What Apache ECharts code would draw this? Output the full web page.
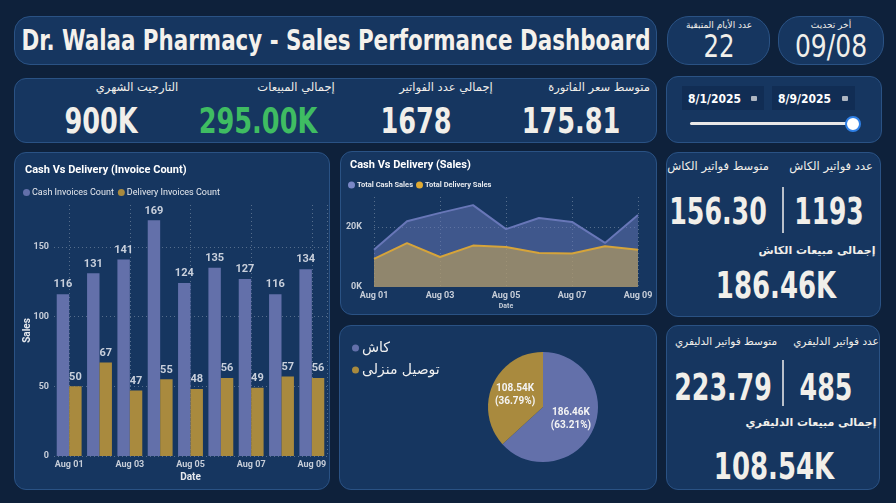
<!DOCTYPE html>
<html>
<head>
<meta charset="utf-8">
<script src="https://cdn.jsdelivr.net/npm/echarts@6.0.0/dist/echarts.min.js"></script>
<style>
  body { margin: 0; background: #0e213b; }
  #page { position: relative; width: 896px; height: 503px; overflow: hidden;
    font-family: "DejaVu Sans Condensed", "DejaVu Sans", sans-serif; color: #f2f2f2; }
  .panel { position: absolute; background: #163660; border: 1px solid #2a5284;
    border-radius: 12px; box-sizing: border-box; }
  .txt { position: absolute; white-space: nowrap; text-align: center; line-height: 1; }
  .big { font-weight: bold; }
  .chart { position: absolute; }
  .datebox { position: absolute; background: #112d54; height: 24px; top: 86px; }
  .datebox span { position: absolute; left: 6px; top: 6px; font-size: 12px; font-weight: bold; color: #fff; }
  .datebox i { position: absolute; right: 7px; top: 10px; width: 6px; height: 5px; background: #aeb6c2; border-radius: 1px; }
  .divider { position: absolute; width: 2px; background: #b9c0ca; }
</style>
</head>
<body>
<div id="page">
  <div class="panel" style="left:14px;top:16px;width:643px;height:49px;border-radius:16px"></div>
  <div class="panel" style="left:667px;top:16px;width:103px;height:49px;border-radius:22px"></div>
  <div class="panel" style="left:778px;top:16px;width:106px;height:49px;border-radius:22px"></div>
  <div class="panel" style="left:14px;top:78px;width:643px;height:65px"></div>
  <div class="panel" style="left:666px;top:76px;width:216px;height:67px"></div>
  <div class="panel" style="left:14px;top:152px;width:316px;height:338px"></div>
  <div class="panel" style="left:340px;top:151px;width:317px;height:164px"></div>
  <div class="panel" style="left:339px;top:325px;width:318px;height:165px"></div>
  <div class="panel" style="left:666px;top:152px;width:215px;height:165px"></div>
  <div class="panel" style="left:666px;top:325px;width:214px;height:165px"></div>

  <!-- date slicer -->
  <div class="datebox" style="left:682px;width:82px"><span>8/1/2025</span><i></i></div>
  <div class="datebox" style="left:772px;width:83px"><span>8/9/2025</span><i></i></div>
  <div style="position:absolute;left:690px;top:122px;width:162px;height:3px;background:#e8e8e8;border-radius:2px"></div>
  <div style="position:absolute;left:845px;top:116px;width:12px;height:12px;background:#fff;border:2px solid #2f80e6;border-radius:50%"></div>

  <div class="divider" style="left:782px;top:187px;height:46px"></div>
  <div class="divider" style="left:782px;top:360px;height:46px"></div>

  <div id="texts"></div>

  <div id="barChart" class="chart" style="left:14px;top:152px;width:316px;height:338px"></div>
  <div id="areaChart" class="chart" style="left:340px;top:151px;width:317px;height:164px"></div>
  <div id="pieChart" class="chart" style="left:339px;top:325px;width:318px;height:165px"></div>
</div>

<script>
// chart data
var dates = ["Aug 01", "Aug 02", "Aug 03", "Aug 04", "Aug 05", "Aug 06", "Aug 07", "Aug 08", "Aug 09"];
var cashCount = [116, 131, 141, 169, 124, 135, 127, 116, 134];
var deliveryCount = [50, 67, 47, 55, 48, 56, 49, 57, 56];
var cashSales = [12400, 21900, 24700, 27300, 19300, 23000, 21700, 14700, 24000];
var deliverySales = [9400, 14600, 10000, 13800, 13300, 11300, 11200, 13600, 12400];
var pieNames = ["كاش", "توصيل منزلى"];
var pieValues = [186460, 108540];

// kpi cards
var pageTitle = "Dr. Walaa Pharmacy - Sales Performance Dashboard";
var kpiLabels = ["متوسط سعر الفاتورة", "إجمالي عدد الفواتير", "إجمالي المبيعات", "التارجيت الشهري"];
var kpiValues = ["175.81", "1678", "295.00K", "900K"];
var headLabels = ["عدد الأيام المتبقية", "أخر تحديث"];
var headValues = ["22", "09/08"];
var cashLabels = ["عدد فواتير الكاش", "متوسط فواتير الكاش", "إجمالى مبيعات الكاش"];
var cashValues = ["1193", "156.30", "186.46K"];
var deliveryLabels = ["عدد فواتير الدليفري", "متوسط فواتير الدليفري", "إجمالى مبيعات الدليفري"];
var deliveryValues = ["485", "223.79", "108.54K"];

var FONT = "Roboto, sans-serif";
var AR = "DejaVu Sans, sans-serif";
var CASH = "#6370aa";
var GOLD = "#a98a3e";

function addText(str, x, y, size, opts) {
  opts = opts || {};
  var d = document.createElement("div");
  d.className = "txt" + (opts.bold ? " big" : "");
  d.textContent = str;
  d.style.left = x + "px";
  d.style.top = y + "px";
  d.style.fontSize = size + "px";
  d.style.color = opts.color || "#f1efea";
  d.style.transform = "translate(-50%, -50%) scaleX(" + (opts.sx || 1) + ")";
  if (opts.font) d.style.fontFamily = opts.font;
  if (opts.rtl) d.dir = "rtl";
  document.getElementById("texts").appendChild(d);
}

addText(pageTitle, 336, 41, 28, { bold: true, sx: 0.85, color: "#f4f1ec" });

// header
addText(headLabels[0], 719, 25, 9, { rtl: true, font: AR });
addText(headValues[0], 719, 46, 32, { sx: 0.85 });
addText(headLabels[1], 831, 25, 9, { rtl: true, font: AR });
addText(headValues[1], 831, 46, 32, { sx: 0.87 });

// kpi row
var kpiLabelX = [599, 446, 296, 137];
var kpiValueX = [571, 416, 258, 101];
for (var i = 0; i < kpiLabels.length; i++) {
  addText(kpiLabels[i], kpiLabelX[i], 88, 11.5, { rtl: true, font: AR });
  addText(kpiValues[i], kpiValueX[i], 121, 36, { bold: true, sx: 0.79, color: i == 2 ? "#3fbc62" : "#f1efea" });
}

// cash card
addText(cashLabels[0], 831, 167, 11.5, { rtl: true, font: AR });
addText(cashLabels[1], 718, 167, 11.5, { rtl: true, font: AR });
addText(cashValues[0], 829, 211, 38, { bold: true, sx: 0.73 });
addText(cashValues[1], 718, 211, 38, { bold: true, sx: 0.74 });
addText(cashLabels[2], 817, 250, 11, { rtl: true, bold: true, font: AR });
addText(cashValues[2], 776, 285, 38, { bold: true, sx: 0.76 });

// delivery card
addText(deliveryLabels[0], 836, 341, 10.5, { rtl: true, font: AR });
addText(deliveryLabels[1], 726, 341, 10.5, { rtl: true, font: AR });
addText(deliveryValues[0], 826, 387, 38, { bold: true, sx: 0.74 });
addText(deliveryValues[1], 723, 387, 38, { bold: true, sx: 0.74 });
addText(deliveryLabels[2], 811, 422, 11, { rtl: true, bold: true, font: AR });
addText(deliveryValues[2], 774, 466, 38, { bold: true, sx: 0.76 });

var axisLabelStyle = { color: "#c6cdd8", fontSize: 9, fontWeight: "bold", fontFamily: FONT };
var dottedLine = { color: "rgba(255,255,255,0.28)", type: [1, 3], width: 1 };

// half-slot axis, only used to put dotted lines under every second label
var halfSlots = [];
for (var k = 0; k < dates.length * 2; k++) halfSlots.push("");

var barChart = echarts.init(document.getElementById("barChart"));
barChart.setOption({
  textStyle: { fontFamily: FONT },
  title: { text: "Cash Vs Delivery (Invoice Count)", left: 6, top: 8,
    textStyle: { color: "#fff", fontSize: 11, fontWeight: "bold", fontFamily: FONT } },
  legend: { left: 4, top: 31, icon: "circle", itemWidth: 7, itemHeight: 7, itemGap: 4,
    textStyle: { color: "#e6e9ee", fontSize: 9, fontFamily: FONT, padding: [0, 0, 0, -3] } },
  grid: { left: 40, right: 3, top: 53, bottom: 34, outerBoundsMode: "none" },
  xAxis: [{
    type: "category", data: dates,
    axisLine: { show: false }, axisTick: { show: false }, splitLine: { show: false },
    axisLabel: Object.assign({ interval: 1, margin: 4 }, axisLabelStyle),
    name: "Date", nameLocation: "middle", nameGap: 16, nameMoveOverlap: false,
    nameTextStyle: { color: "#e6e9ee", fontSize: 10, fontWeight: "bold", fontFamily: FONT, verticalAlign: "top" }
  }, {
    type: "category", data: halfSlots, position: "bottom",
    axisLine: { show: false }, axisTick: { show: false }, axisLabel: { show: false },
    splitLine: { show: true, interval: function (idx) { return idx % 4 === 1; }, lineStyle: dottedLine }
  }],
  yAxis: {
    type: "value", min: 0, max: 180, interval: 50,
    axisLabel: Object.assign({ margin: 5, showMaxLabel: false }, axisLabelStyle),
    splitLine: { show: true, showMaxLine: false, lineStyle: dottedLine },
    name: "Sales", nameLocation: "middle", nameGap: 22, nameMoveOverlap: false,
    nameTextStyle: { color: "#e6e9ee", fontSize: 10, fontWeight: "bold", fontFamily: FONT }
  },
  series: [{
    name: "Cash Invoices Count", type: "bar", data: cashCount,
    barGap: "0%", barCategoryGap: "18%",
    itemStyle: { color: CASH },
    label: { show: true, position: "top", distance: 4, color: "#c9d0dc", fontSize: 11, fontWeight: "bold", fontFamily: FONT }
  }, {
    name: "Delivery Invoices Count", type: "bar", data: deliveryCount,
    itemStyle: { color: GOLD },
    label: { show: true, position: "top", distance: 4, color: "#c9d0dc", fontSize: 11, fontWeight: "bold", fontFamily: FONT }
  }]
});

var areaChart = echarts.init(document.getElementById("areaChart"));
areaChart.setOption({
  textStyle: { fontFamily: FONT },
  title: { text: "Cash Vs Delivery (Sales)", left: 5, top: 4,
    textStyle: { color: "#fff", fontSize: 11, fontWeight: "bold", fontFamily: FONT } },
  legend: { left: 3, top: 25, icon: "circle", itemWidth: 7, itemHeight: 7, itemGap: 3,
    textStyle: { color: "#e6e9ee", fontSize: 7.5, fontWeight: "bold", fontFamily: FONT, padding: [0, 0, 0, -3] } },
  grid: { left: 34, right: 19, top: 46, bottom: 28, outerBoundsMode: "none" },
  xAxis: {
    type: "category", data: dates, boundaryGap: false,
    axisLine: { show: false }, axisTick: { show: false },
    axisLabel: Object.assign({ interval: 1, margin: 4 }, axisLabelStyle),
    splitLine: { show: true, interval: 1, lineStyle: dottedLine },
    name: "Date", nameLocation: "middle", nameGap: 16, nameMoveOverlap: false,
    nameTextStyle: { color: "#c6cdd8", fontSize: 7, fontWeight: "bold", fontFamily: FONT, verticalAlign: "top" }
  },
  yAxis: {
    type: "value", min: 0, max: 30000, interval: 20000,
    axisLabel: Object.assign({ margin: 12, showMaxLabel: false, formatter: function (v) { return (v / 1000) + "K"; } }, axisLabelStyle),
    splitLine: { show: true, showMaxLine: false, showMinLine: false, lineStyle: dottedLine }
  },
  series: [{
    name: "Total Cash Sales", type: "line", data: cashSales, symbol: "none",
    lineStyle: { color: "#6877b8", width: 2 }, itemStyle: { color: "#7a87c6" },
    areaStyle: { color: "#6877b8", opacity: 0.5 }
  }, {
    name: "Total Delivery Sales", type: "line", data: deliverySales, symbol: "none",
    lineStyle: { color: "#d6a43a", width: 2 }, itemStyle: { color: "#e0aa33" },
    areaStyle: { color: "#c4a45a", opacity: 0.62 }
  }]
});

var pieChart = echarts.init(document.getElementById("pieChart"));
var pieData = [];
for (var p = 0; p < pieNames.length; p++) pieData.push({ name: pieNames[p], value: pieValues[p] });
pieChart.setOption({
  legend: { orient: "vertical", left: 8, top: 11, icon: "circle", itemWidth: 7, itemHeight: 7, itemGap: 8,
    textStyle: { color: "#f1f1f1", fontSize: 14, fontFamily: AR, padding: [0, 0, 0, -2] } },
  color: [CASH, GOLD],
  series: [{
    type: "pie", center: [204, 82], radius: 55, startAngle: 90, percentPrecision: 2,
    data: pieData,
    label: { position: "inside", color: "#f4f4f4", fontSize: 10, fontWeight: "bold", fontFamily: FONT, lineHeight: 13,
      formatter: function (pr) { return (pr.value / 1000).toFixed(2) + "K\n(" + pr.percent.toFixed(2) + "%)"; } },
    itemStyle: { borderWidth: 0 }
  }]
});
</script>
</body>
</html>
